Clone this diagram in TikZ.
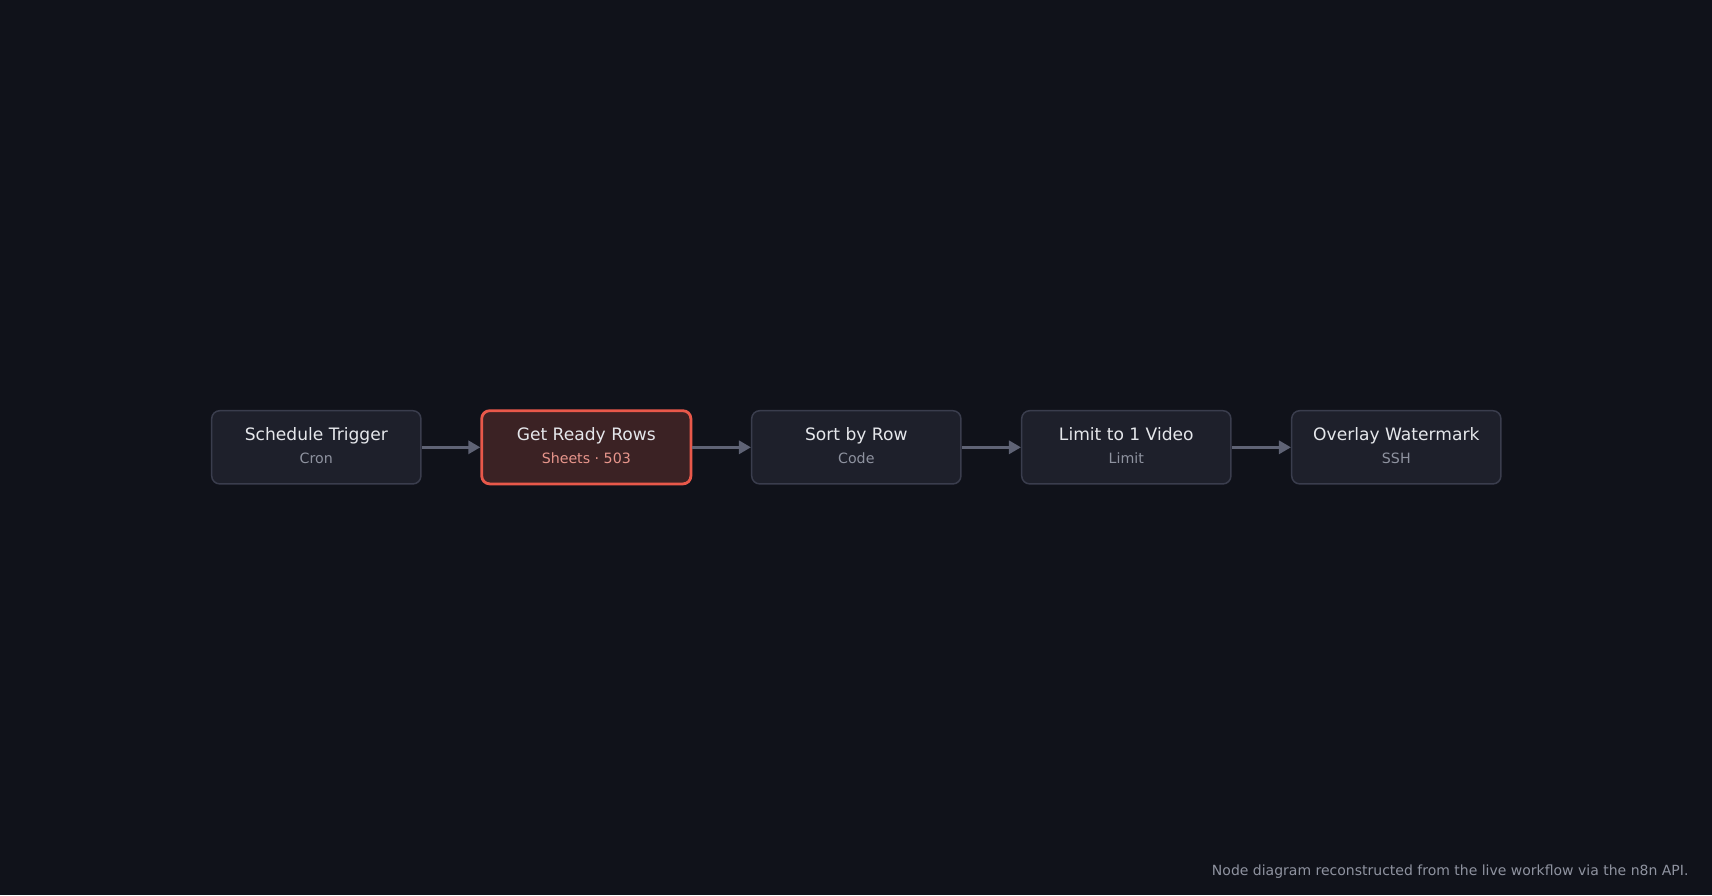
\documentclass[tikz,border=0pt]{standalone}
\usepackage{fontspec}
\setmainfont{DejaVu Sans}
\usepackage{tikz}
\usetikzlibrary{arrows.meta, positioning, calc}
\definecolor{bgcolor}{RGB}{16, 18, 26}
\definecolor{stepfill}{RGB}{30, 32, 43}
\definecolor{stepline}{RGB}{58, 61, 77}
\definecolor{errfill}{RGB}{59, 34, 36}
\definecolor{errline}{RGB}{232, 88, 74}
\definecolor{titlecolor}{RGB}{229, 231, 235}
\definecolor{subcolor}{RGB}{143, 147, 160}
\definecolor{errsubcolor}{RGB}{232, 150, 140}
\definecolor{flowcolor}{RGB}{95, 99, 117}

\begin{document}
\begin{tikzpicture}[
    x=0.5pt, y=-0.5pt,
    stepbox/.style={draw=stepline, line width=0.75pt, rounded corners=4pt, fill=stepfill, minimum width=104.6pt, minimum height=36.6pt, inner sep=0pt},
    errbox/.style={stepbox, draw=errline, fill=errfill, line width=1.4pt},
    title/.style={anchor=base, text=titlecolor, font=\fontsize{8.55pt}{10pt}\selectfont},
    sub/.style={anchor=base, text=subcolor, font=\fontsize{7.1pt}{9pt}\selectfont},
    flow/.style={draw=flowcolor, line width=1.5pt, -{Triangle[length=6pt, width=6.5pt]}}
]
    % Background
    \fill[bgcolor] (0, 0) rectangle (1712, 895);

    % Workflow steps
    \node[stepbox] (trigger) at (316.3, 447.3) {};
    \node[title] (triggertitle) at ($(trigger.center)+(0,-7.3)$) {Schedule Trigger};
    \node[sub] (triggersub) at ($(trigger.center)+(0,16)$) {Cron};

    \node[errbox] (rows) at (586.3, 447.3) {};
    \node[title] (rowstitle) at ($(rows.center)+(0,-7.3)$) {Get Ready Rows};
    \node[sub, text=errsubcolor] (rowssub) at ($(rows.center)+(0,16)$) {Sheets · 503};

    \node[stepbox] (sort) at (856.3, 447.3) {};
    \node[title] (sorttitle) at ($(sort.center)+(0,-7.3)$) {Sort by Row};
    \node[sub] (sortsub) at ($(sort.center)+(0,16)$) {Code};

    \node[stepbox] (limit) at (1126.3, 447.3) {};
    \node[title] (limittitle) at ($(limit.center)+(0,-7.3)$) {Limit to 1 Video};
    \node[sub] (limitsub) at ($(limit.center)+(0,16)$) {Limit};

    \node[stepbox] (overlay) at (1396.3, 447.3) {};
    \node[title] (overlaytitle) at ($(overlay.center)+(0,-7.3)$) {Overlay Watermark};
    \node[sub] (overlaysub) at ($(overlay.center)+(0,16)$) {SSH};

    % Connections
    \draw[flow] (trigger) -- (rows);
    \draw[flow] (rows) -- (sort);
    \draw[flow] (sort) -- (limit);
    \draw[flow] (limit) -- (overlay);

    % Footer
    \node[sub, anchor=base east, font=\fontsize{7pt}{9pt}\selectfont] (footer) at (1695.5, 875) {Node diagram reconstructed from the live workflow via the n8n API.};

\end{tikzpicture}
\end{document}
